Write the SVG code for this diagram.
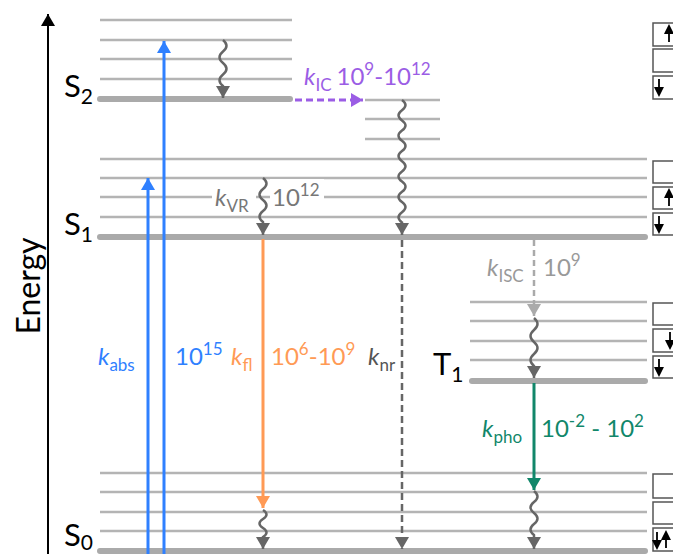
<svg xmlns="http://www.w3.org/2000/svg" width="673" height="554" viewBox="0 0 673 554">
<style>
.lv{stroke:#b4b4b4;stroke-width:2.5;fill:none}
.lvg{stroke:#aaaaaa;stroke-width:6;stroke-linecap:round;fill:none}
.wave{stroke:#666;stroke-width:2.5;fill:none}
.t{font-family:Lato,"Open Sans",sans-serif;font-size:24px}
.st{font-family:Lato,"Open Sans",sans-serif;font-size:31px;fill:#000}
.sub{font-size:17px}
.ssub{font-size:21px}
.box{fill:#fff;stroke:#555;stroke-width:1.5}
.sp{stroke:#000;stroke-width:1.8;fill:#000}
</style>
<defs>
<marker id="mBlue" markerUnits="userSpaceOnUse" markerWidth="12" markerHeight="14" viewBox="0 0 12 14" refX="12" refY="7" orient="auto"><path d="M0,0 L12,7 L0,14 z" fill="#2f80ff"/></marker>
<marker id="mOrange" markerUnits="userSpaceOnUse" markerWidth="12" markerHeight="14" viewBox="0 0 12 14" refX="12" refY="7" orient="auto"><path d="M0,0 L12,7 L0,14 z" fill="#ff9a55"/></marker>
<marker id="mGreen" markerUnits="userSpaceOnUse" markerWidth="12" markerHeight="14" viewBox="0 0 12 14" refX="12" refY="7" orient="auto"><path d="M0,0 L12,7 L0,14 z" fill="#11876a"/></marker>
<marker id="mPurple" markerUnits="userSpaceOnUse" markerWidth="12" markerHeight="14" viewBox="0 0 12 14" refX="12" refY="7" orient="auto"><path d="M0,0 L12,7 L0,14 z" fill="#9b5de5"/></marker>
<marker id="mGray" markerUnits="userSpaceOnUse" markerWidth="12" markerHeight="14" viewBox="0 0 12 14" refX="12" refY="7" orient="auto"><path d="M0,0 L12,7 L0,14 z" fill="#666"/></marker>
<marker id="mLight" markerUnits="userSpaceOnUse" markerWidth="12" markerHeight="14" viewBox="0 0 12 14" refX="12" refY="7" orient="auto"><path d="M0,0 L12,7 L0,14 z" fill="#aaa"/></marker>
<marker id="mBlack" markerUnits="userSpaceOnUse" markerWidth="12" markerHeight="14" viewBox="0 0 12 14" refX="12" refY="7" orient="auto"><path d="M0,0 L12,7 L0,14 z" fill="#000"/></marker>
<path id="up" d="M0,8 V-2 M-3.5,-1 L0,-8 L3.5,-1 z" class="sp"/>
<path id="dn" d="M0,-8 V2 M-3.5,1 L0,8 L3.5,1 z" class="sp"/>
</defs>
<rect width="673" height="554" fill="#fff"/>

<g id="axis">
<path d="M48,554 V14" stroke="#000" stroke-width="2" marker-end="url(#mBlack)"/>
<text class="t" transform="translate(40,286) rotate(-90)" text-anchor="middle" style="font-size:32px">Energy</text>
</g>

<g id="S2">
<path class="lv" d="M100,20H292M100,40H292M100,59H292M100,79H292"/>
<path class="lvg" d="M100,99H290"/>
<text class="st" x="64" y="97">S<tspan class="ssub" dy="7">2</tspan></text>
</g>
<g id="S2ic">
<path class="lv" d="M365,100H440M365,119H440M365,139H440"/>
</g>
<g id="S1">
<path class="lv" d="M100,159H647M100,178H647M100,197H647M100,217H647"/>
<path class="lvg" d="M100,237H645"/>
<text class="st" x="64" y="235">S<tspan class="ssub" dy="7">1</tspan></text>
</g>
<g id="T1">
<path class="lv" d="M470,302H647M470,321H647M470,341H647M470,360H647"/>
<path class="lvg" d="M472,381H645"/>
<text class="st" x="433" y="375">T<tspan class="ssub" dy="7">1</tspan></text>
</g>
<g id="S0">
<path class="lv" d="M100,473H647M100,492H647M100,512H647M100,531H647"/>
<path class="lvg" d="M100,551H645"/>
<text class="st" x="64" y="546">S<tspan class="ssub" dy="4">0</tspan></text>
</g>

<g id="boxS2">
<rect class="box" x="653" y="23" width="30" height="23"/>
<rect class="box" x="653" y="49" width="30" height="23"/>
<rect class="box" x="653" y="76" width="30" height="23"/>
<use href="#up" x="669" y="34"/>
<use href="#dn" x="659" y="87"/>
</g>
<g id="boxS1">
<rect class="box" x="653" y="161" width="30" height="22"/>
<rect class="box" x="653" y="187" width="30" height="22"/>
<rect class="box" x="653" y="213" width="30" height="22"/>
<use href="#up" x="669" y="198"/>
<use href="#dn" x="659" y="224"/>
</g>
<g id="boxT1">
<rect class="box" x="653" y="303" width="30" height="22"/>
<rect class="box" x="653" y="329" width="30" height="23"/>
<rect class="box" x="653" y="356" width="30" height="22"/>
<use href="#dn" x="670" y="340"/>
<use href="#dn" x="659" y="367"/>
</g>
<g id="boxS0">
<rect class="box" x="653" y="474" width="30" height="24"/>
<rect class="box" x="653" y="502" width="30" height="22"/>
<rect class="box" x="653" y="528" width="30" height="23"/>
<use href="#dn" x="657" y="540"/>
<use href="#up" x="666" y="540"/>
</g>

<rect x="212" y="184" width="44" height="28" fill="#fff"/>
<rect x="270" y="179" width="54" height="27" fill="#fff"/>

<g id="connectors">
<path d="M148,554V178" stroke="#2f80ff" stroke-width="3" fill="none" marker-end="url(#mBlue)"/>
<path d="M164,554V41" stroke="#2f80ff" stroke-width="3" fill="none" marker-end="url(#mBlue)"/>
<path class="wave" d="M223,40 q7,5.75 0,11.5 t0,11.5 t0,11.5 t0,11.5 V98" marker-end="url(#mGray)"/>
<path d="M295,100H363" stroke="#9b5de5" stroke-width="3" stroke-dasharray="7,4" fill="none" marker-end="url(#mPurple)"/>
<path class="wave" d="M402,100 q7,5.1 0,10.2 t0,10.2 t0,10.2 t0,10.2 t0,10.2 t0,10.2 t0,10.2 t0,10.2 t0,10.2 t0,10.2 t0,10.2 t0,10.2 V235" marker-end="url(#mGray)"/>
<path class="wave" d="M263,178 q7,5.5 0,11 t0,11 t0,11 t0,11 V235" marker-end="url(#mGray)"/>
<path d="M263,239V508" stroke="#ff9a55" stroke-width="3" fill="none" marker-end="url(#mOrange)"/>
<path class="wave" d="M263,510 q7,4.5 0,9 t0,9 t0,9 V549" marker-end="url(#mGray)"/>
<path d="M402,240V549" stroke="#666" stroke-width="2.5" stroke-dasharray="7,4" fill="none" marker-end="url(#mGray)"/>
<path d="M534,240V316" stroke="#aaa" stroke-width="2.5" stroke-dasharray="6,4" fill="none" marker-end="url(#mLight)"/>
<path class="wave" d="M534,318 q7,6 0,12 t0,12 t0,12 t0,12 V378" marker-end="url(#mGray)"/>
<path d="M534,383V490" stroke="#11876a" stroke-width="3" fill="none" marker-end="url(#mGreen)"/>
<path class="wave" d="M534,491 q7,5.5 0,11 t0,11 t0,11 t0,11 V549" marker-end="url(#mGray)"/>
</g>

<g id="labels">
<text class="t" x="304" y="85" fill="#9b5de5"><tspan font-style="italic">k</tspan><tspan class="sub" dy="6">IC</tspan><tspan dx="5" dy="-6">10</tspan><tspan class="sub" dy="-10">9</tspan><tspan dy="10">-10</tspan><tspan class="sub" dy="-10">12</tspan></text>
<text class="t" x="215" y="206" fill="#777"><tspan font-style="italic">k</tspan><tspan class="sub" dy="6">VR</tspan></text>
<text class="t" x="272" y="206" fill="#777">10<tspan class="sub" dy="-10">12</tspan></text>
<text class="t" x="98" y="365" fill="#2f80ff"><tspan font-style="italic">k</tspan><tspan class="sub" dy="6">abs</tspan></text>
<text class="t" x="175" y="365" fill="#2f80ff">10<tspan class="sub" dy="-10">15</tspan></text>
<text class="t" x="231" y="365" fill="#ff9a55"><tspan font-style="italic">k</tspan><tspan class="sub" dy="6">fl</tspan></text>
<text class="t" x="271" y="365" fill="#ff9a55">10<tspan class="sub" dy="-10">6</tspan><tspan dy="10">-10</tspan><tspan class="sub" dy="-10">9</tspan></text>
<text class="t" x="368" y="365" fill="#555"><tspan font-style="italic">k</tspan><tspan class="sub" dy="6">nr</tspan></text>
<text class="t" x="487" y="276" fill="#999"><tspan font-style="italic">k</tspan><tspan class="sub" dy="6">ISC</tspan></text>
<text class="t" x="543" y="276" fill="#999">10<tspan class="sub" dy="-10">9</tspan></text>
<text class="t" x="482" y="437" fill="#11876a"><tspan font-style="italic">k</tspan><tspan class="sub" dy="6">pho</tspan></text>
<text class="t" x="541" y="437" fill="#11876a">10<tspan class="sub" dy="-10">-2</tspan><tspan dy="10"> - 10</tspan><tspan class="sub" dy="-10">2</tspan></text>
</g>
</svg>
